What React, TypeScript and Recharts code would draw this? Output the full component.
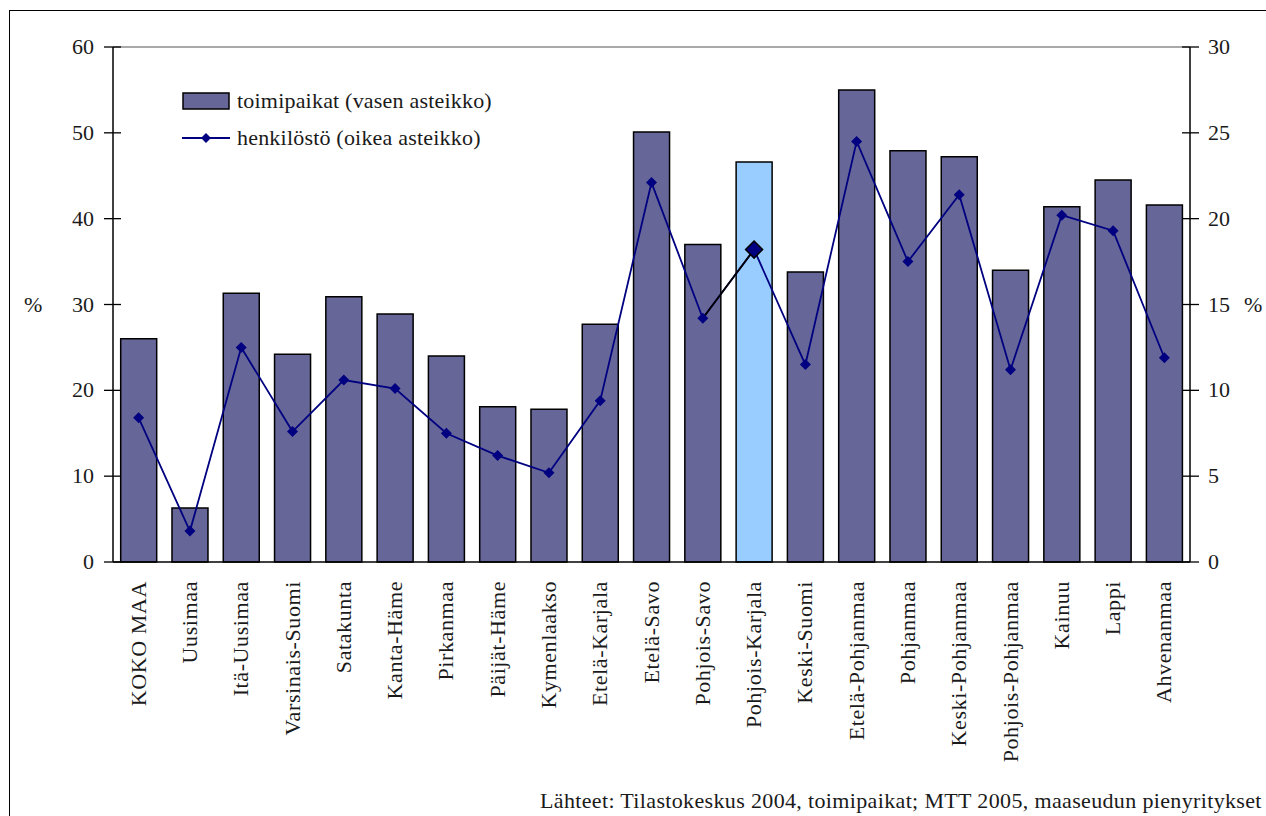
import React from 'react';
import { ComposedChart, Bar, Line, XAxis, YAxis, Cell, Legend, ReferenceLine } from 'recharts';

const alueet = [
  'KOKO MAA', 'Uusimaa', 'Itä-Uusimaa', 'Varsinais-Suomi', 'Satakunta', 'Kanta-Häme',
  'Pirkanmaa', 'Päijät-Häme', 'Kymenlaakso', 'Etelä-Karjala', 'Etelä-Savo', 'Pohjois-Savo',
  'Pohjois-Karjala', 'Keski-Suomi', 'Etelä-Pohjanmaa', 'Pohjanmaa', 'Keski-Pohjanmaa',
  'Pohjois-Pohjanmaa', 'Kainuu', 'Lappi', 'Ahvenanmaa',
];
// toimipaikat, vasen asteikko (%)
const toimipaikat = [26.0, 6.3, 31.3, 24.2, 30.9, 28.9, 24.0, 18.1, 17.8, 27.7, 50.1, 37.0, 46.6, 33.8, 55.0, 47.9, 47.2, 34.0, 41.4, 44.5, 41.6];
// henkilöstö, oikea asteikko (%)
const henkilosto = [8.4, 1.8, 12.5, 7.6, 10.6, 10.1, 7.5, 6.2, 5.2, 9.4, 22.1, 14.2, 18.2, 11.5, 24.5, 17.5, 21.4, 11.2, 20.2, 19.3, 11.9];
const vasenTicks = [0, 10, 20, 30, 40, 50, 60];
const oikeaTicks = [0, 5, 10, 15, 20, 25, 30];
const korostettu = 'Pohjois-Karjala';
const lahde = 'Lähteet: Tilastokeskus 2004, toimipaikat; MTT 2005, maaseudun pienyritykset';

const korIdx = alueet.indexOf(korostettu);
const data = alueet.map((nimi, i) => ({
  nimi,
  toimipaikat: toimipaikat[i],
  henkilosto: henkilosto[i],
  korostus: i === korIdx || i === korIdx - 1 ? henkilosto[i] : null,
}));

const FONT = "'Liberation Serif', 'Times New Roman', Times, serif";
const TEXT = '#1a1a1a';
const BAR = '#666699';
const LINE = '#000080';

const textStyle: React.CSSProperties = { fontFamily: FONT, fontSize: 22, color: TEXT, whiteSpace: 'nowrap' };

const diamond = (cx: number, cy: number, r: number) =>
  `M${cx},${cy - r}L${cx + r},${cy}L${cx},${cy + r}L${cx - r},${cy}Z`;

const LeftTick = (props: any) => {
  const { x, y, payload } = props;
  return (
    <g>
      <line x1={x - 9} x2={x + 8} y1={y} y2={y} stroke="#000" strokeWidth={1.3} />
      <text x={x - 19} y={y} dy={7} textAnchor="end" fontSize={22} fontFamily={FONT} fill={TEXT}>
        {payload.value}
      </text>
    </g>
  );
};

const RightTick = (props: any) => {
  const { x, y, payload } = props;
  return (
    <g>
      <line x1={x - 8} x2={x + 9} y1={y} y2={y} stroke="#000" strokeWidth={1.3} />
      <text x={x + 18} y={y} dy={7} textAnchor="start" fontSize={22} fontFamily={FONT} fill={TEXT}>
        {payload.value}
      </text>
    </g>
  );
};

const CategoryTick = (props: any) => {
  const { x, y, payload } = props;
  return (
    <text
      transform={`translate(${x + 7},${y + 19}) rotate(-90)`}
      textAnchor="end"
      fontSize={22}
      fontFamily={FONT}
      letterSpacing={0.6}
      fill={TEXT}
    >
      {payload.value}
    </text>
  );
};

const renderLegend = () => (
  <div style={{ ...textStyle, lineHeight: '37px' }}>
    <div style={{ display: 'flex', alignItems: 'center' }}>
      <svg width={55} height={20}>
        <rect x={1} y={2} width={46} height={16} fill={BAR} stroke="#000" strokeWidth={1.5} />
      </svg>
      <span style={{ ...textStyle, letterSpacing: 0.2 }}>toimipaikat (vasen asteikko)</span>
    </div>
    <div style={{ display: 'flex', alignItems: 'center' }}>
      <svg width={55} height={20}>
        <line x1={0} x2={48} y1={10} y2={10} stroke={LINE} strokeWidth={1.8} />
        <path d={diamond(24, 10, 5)} fill={LINE} />
      </svg>
      <span style={{ ...textStyle, letterSpacing: 0.2 }}>henkilöstö (oikea asteikko)</span>
    </div>
  </div>
);

const App: React.FC = () => {
  return (
    <div style={{ position: 'relative', width: 1266, height: 816, overflow: 'hidden', background: '#fff', fontFamily: FONT }}>
      <style>{'body{margin:0;overflow:hidden}'}</style>
      <div
        style={{
          position: 'absolute', left: 9, top: 10, width: 1257, height: 806,
          borderTop: '1.5px solid #000', borderLeft: '1.5px solid #000', boxSizing: 'border-box',
        }}
      />
      <div style={{ position: 'absolute', left: 0, top: 0 }}>
        <ComposedChart width={1266} height={816} data={data} margin={{ top: 47, right: 0, bottom: 0, left: 0 }} barCategoryGap="15%">
          <XAxis
            dataKey="nimi"
            interval={0}
            height={254}
            tickSize={0}
            tickMargin={0}
            tick={<CategoryTick />}
            axisLine={{ stroke: '#000', strokeWidth: 1.5 }}
            tickLine={false}
          />
          <YAxis
            yAxisId="vasen"
            orientation="left"
            width={113}
            domain={[0, 60]}
            ticks={vasenTicks}
            tickSize={0}
            tickMargin={0}
            tick={<LeftTick />}
            tickLine={false}
            axisLine={{ stroke: '#000', strokeWidth: 1.5 }}
          />
          <YAxis
            yAxisId="oikea"
            orientation="right"
            width={76}
            domain={[0, 30]}
            ticks={oikeaTicks}
            tickSize={0}
            tickMargin={0}
            tick={<RightTick />}
            tickLine={false}
            axisLine={{ stroke: '#000', strokeWidth: 1.5 }}
          />
          <ReferenceLine yAxisId="vasen" y={60} stroke="#8c8c8c" strokeWidth={1.5} />
          <Legend
            layout="vertical"
            align="center"
            verticalAlign="middle"
            content={renderLegend}
            wrapperStyle={{ position: 'absolute', left: 182, top: 82, width: 'auto', height: 'auto' }}
          />
          <Bar yAxisId="vasen" dataKey="toimipaikat" stroke="#000" strokeWidth={1.5} isAnimationActive={false} legendType="none">
            {data.map((d) => (
              <Cell key={d.nimi} fill={d.nimi === korostettu ? '#99CCFF' : BAR} />
            ))}
          </Bar>
          <Line
            yAxisId="oikea"
            dataKey="henkilosto"
            stroke={LINE}
            strokeWidth={1.8}
            isAnimationActive={false}
            dot={(p: any) =>
              p.cx == null ? <g key={p.index} /> : <path key={p.index} d={diamond(p.cx, p.cy, 5.5)} fill={LINE} />
            }
            activeDot={false}
          />
          <Line
            yAxisId="oikea"
            dataKey="korostus"
            stroke="#000"
            strokeWidth={1.8}
            connectNulls={false}
            isAnimationActive={false}
            dot={(p: any) =>
              p.cx == null || p.index !== korIdx ? (
                <g key={p.index} />
              ) : (
                <path key={p.index} d={diamond(p.cx, p.cy, 8.5)} fill={LINE} stroke="#000" strokeWidth={1.5} />
              )
            }
            activeDot={false}
          />
        </ComposedChart>
      </div>
      <div style={{ ...textStyle, position: 'absolute', left: 24, top: 292 }}>%</div>
      <div style={{ ...textStyle, position: 'absolute', left: 1244, top: 292 }}>%</div>
      <div style={{ ...textStyle, position: 'absolute', left: 540, top: 788, letterSpacing: 0.35 }}>{lahde}</div>
    </div>
  );
};

export default App;
